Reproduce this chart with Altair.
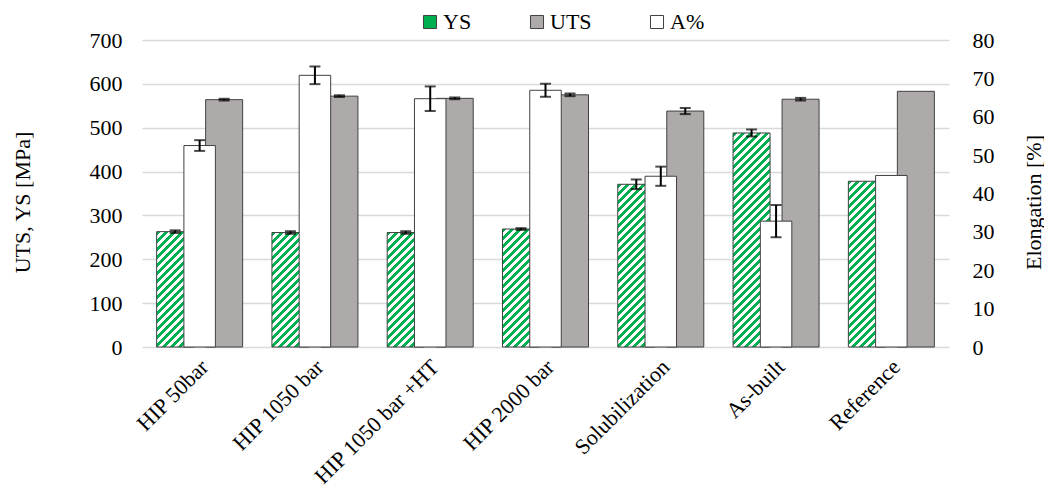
import altair as alt
import pandas as pd

# ---- data ----
cats = ["HIP 50bar", "HIP 1050 bar", "HIP 1050 bar +HT", "HIP 2000 bar",
        "Solubilization", "As-built", "Reference"]
ys = [263, 261, 261, 269, 371, 488, 378]
ys_err = [3, 3, 3, 2, 11, 8, 0]
uts = [564, 572, 567, 575, 538, 565, 583]
uts_err = [2, 2, 2, 3, 7, 3, 0]
elong = [52.5, 70.8, 64.7, 66.9, 44.5, 32.8, 44.7]
elong_err = [1.4, 2.3, 3.2, 1.7, 2.5, 4.2, 0]

left_ticks = list(range(0, 701, 100))
right_ticks = list(range(0, 81, 10))

# ---- layout / style constants ----
W_PLOT, H_PLOT = 807, 307
Y_MAX, E_MAX = 700, 80
PAD_IN, PAD_OUT = 0.254, 0.127
SUB_PAD = 0.245
FONT = "Liberation Serif"
FS = 22
GREEN = "#00B050"
GRAY = "#AEAAAA"
EDGE = "#404040"

step = W_PLOT / (len(cats) - PAD_IN + 2 * PAD_OUT)
band = step * (1 - PAD_IN)
sub_step = band / (2 - SUB_PAD)
BAR_W = sub_step * (1 - SUB_PAD)


def stripes(h, w=BAR_W, period=8.0, duty=0.5):
    """45-degree green/white hatch as a linear gradient in bbox units."""
    denom = w + h * h / w
    total = w + h
    stops = []
    pos = 0.0
    while pos < total:
        a = pos / denom
        b = min(pos + period * duty, total) / denom
        c = min(pos + period, total) / denom
        stops += [{"offset": a, "color": GREEN}, {"offset": b, "color": GREEN},
                  {"offset": b, "color": "#ffffff"}, {"offset": c, "color": "#ffffff"}]
        pos += period
    return {"gradient": "linear", "x1": 0, "y1": 0, "x2": 1, "y2": h / w, "stops": stops}


prim = pd.DataFrame({
    "cat": cats * 2,
    "series": ["YS"] * len(cats) + ["UTS"] * len(cats),
    "val": ys + uts,
    "err": ys_err + uts_err,
})
prim["lo"] = prim["val"] - prim["err"]
prim["hi"] = prim["val"] + prim["err"]

sec = pd.DataFrame({"cat": cats, "val": elong, "err": elong_err})
sec["lo"] = sec["val"] - sec["err"]
sec["hi"] = sec["val"] + sec["err"]

x_axis = alt.Axis(title=None, labelAngle=-45, labelAlign="right", labelBaseline="middle",
                  labelPadding=16, labelOffset=5, ticks=False, domain=False, labelFontSize=FS,
                  labelColor="black", labelLimit=400, labelFont=FONT)
x_enc = alt.X("cat:N", sort=cats, scale=alt.Scale(paddingInner=PAD_IN, paddingOuter=PAD_OUT),
              axis=x_axis)
xo_enc = alt.XOffset("series:N", sort=["YS", "UTS"],
                     scale=alt.Scale(domain=["YS", "UTS"], paddingInner=SUB_PAD, paddingOuter=0))

left_axis = alt.Axis(values=left_ticks, grid=True, gridColor="#d9d9d9", gridWidth=1.3,
                     domain=False, ticks=False, labelPadding=20, labelFontSize=FS,
                     labelColor="black", labelFont=FONT,
                     title="UTS, YS [MPa]", titleFontSize=FS, titleFontWeight="normal",
                     titleColor="black", titleFont=FONT, titleAngle=270,
                     titleX=-120, titleY=162, titleAlign="center", titleBaseline="middle")
right_axis = alt.Axis(orient="right", values=right_ticks, grid=False, domain=False, ticks=False,
                      labelPadding=23, labelFontSize=FS, labelColor="black", labelFont=FONT,
                      title="Elongation [%]", titleFontSize=FS, titleFontWeight="normal",
                      titleColor="black", titleFont=FONT, titleAngle=270,
                      titleX=84, titleY=162, titleAlign="center", titleBaseline="middle")


def y_left(field):
    return alt.Y(f"{field}:Q", scale=alt.Scale(domain=[0, Y_MAX], nice=False), axis=left_axis)


def y_right(field):
    return alt.Y(f"{field}:Q", scale=alt.Scale(domain=[0, E_MAX], nice=False), axis=right_axis)


ys_fill = alt.FillValue(
    value=GREEN,
    condition=[{"test": f"datum.cat === '{c}'", "value": stripes(v / Y_MAX * H_PLOT)}
               for c, v in zip(cats, ys)],
)

ys_layer = alt.Chart(prim).transform_filter("datum.series === 'YS'").mark_bar(
    stroke=EDGE, strokeWidth=1).encode(x=x_enc, xOffset=xo_enc, y=y_left("val"), fill=ys_fill)

uts_layer = alt.Chart(prim).transform_filter("datum.series === 'UTS'").mark_bar(
    stroke=EDGE, strokeWidth=1).encode(
    x=x_enc, xOffset=xo_enc, y=y_left("val"),
    fill=alt.Fill("series:N",
                  scale=alt.Scale(domain=["YS", "UTS", "A%"], range=[GREEN, GRAY, "#ffffff"]),
                  legend=alt.Legend(title=None, orient="none", legendX=277, legendY=-29,
                                    direction="horizontal", labelFontSize=FS, labelFont=FONT,
                                    labelColor="black", symbolType="square", symbolSize=170,
                                    symbolStrokeColor=EDGE, symbolStrokeWidth=1,
                                    columnPadding=54, labelOffset=2)))

perr = alt.Chart(prim).transform_filter("datum.err > 0")
p_rule = perr.mark_rule(color="black", strokeWidth=2).encode(
    x=x_enc, xOffset=xo_enc, y=y_left("lo"), y2="hi")
p_lo = perr.mark_tick(color="black", thickness=2, size=11).encode(
    x=x_enc, xOffset=xo_enc, y=y_left("lo"))
p_hi = perr.mark_tick(color="black", thickness=2, size=11).encode(
    x=x_enc, xOffset=xo_enc, y=y_left("hi"))

a_bar = alt.Chart(sec).mark_bar(width=31.5, fill="#ffffff", stroke=EDGE, strokeWidth=1).encode(
    x=x_enc, y=y_right("val"))
aerr = alt.Chart(sec).transform_filter("datum.err > 0")
a_rule = aerr.mark_rule(color="black", strokeWidth=2).encode(x=x_enc, y=y_right("lo"), y2="hi")
a_lo = aerr.mark_tick(color="black", thickness=2, size=11).encode(x=x_enc, y=y_right("lo"))
a_hi = aerr.mark_tick(color="black", thickness=2, size=11).encode(x=x_enc, y=y_right("hi"))

primary = alt.layer(ys_layer, uts_layer, p_rule, p_lo, p_hi)
secondary = alt.layer(a_bar, a_rule, a_lo, a_hi)

chart = alt.layer(primary, secondary).resolve_scale(y="independent").properties(
    width=W_PLOT, height=H_PLOT,
    padding={"left": 134, "top": 32, "right": 95, "bottom": 145},
    autosize=alt.AutoSizeParams(type="none"),
).configure(font=FONT).configure_view(stroke="transparent").configure_legend(
    labelFont=FONT, labelFontSize=FS, labelColor="black")

chart.save("out.html", embed_options={"renderer": "svg", "actions": False})
